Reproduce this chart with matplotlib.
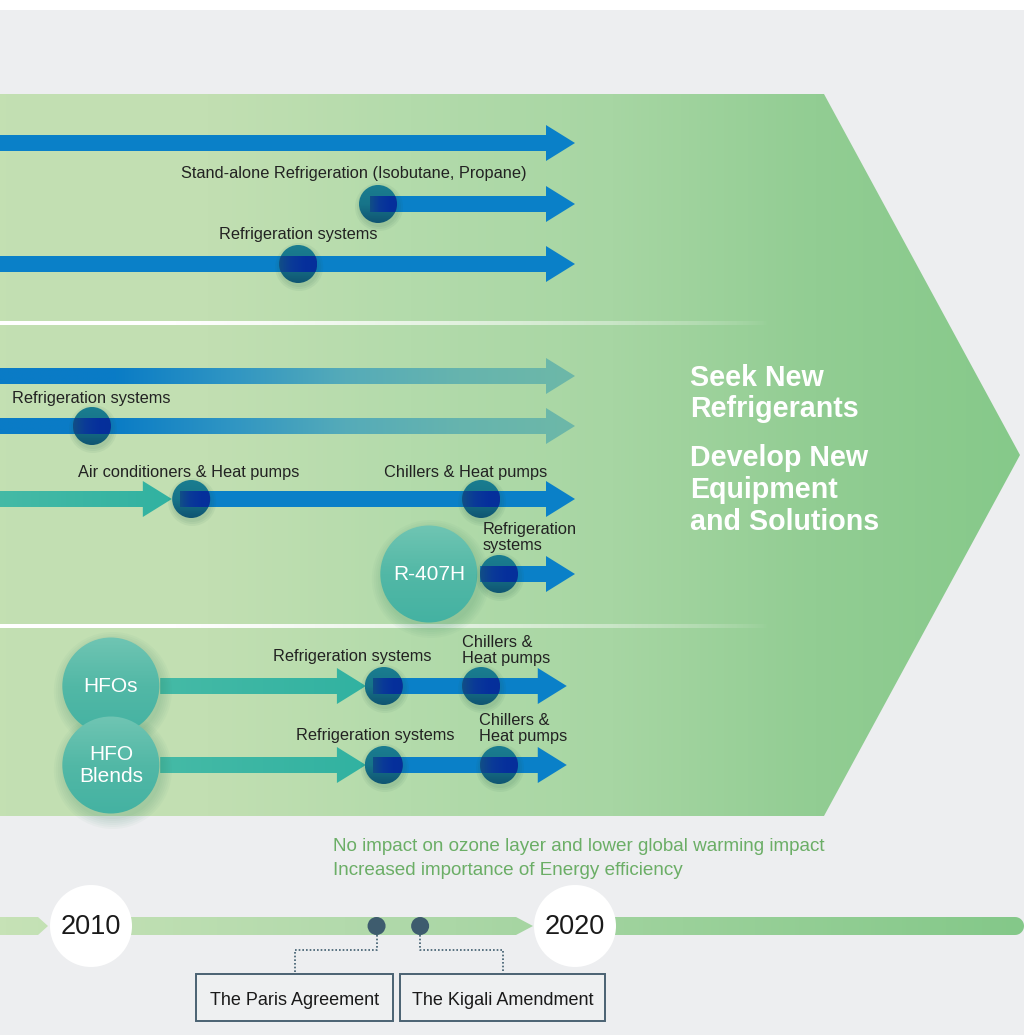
import matplotlib
matplotlib.use('Agg')
import matplotlib.pyplot as plt
import numpy as np
from matplotlib.patches import Polygon, Ellipse, Rectangle, PathPatch
from matplotlib.path import Path
from matplotlib.colors import LinearSegmentedColormap

plt.rcParams['font.family'] = ['Liberation Sans', 'DejaVu Sans']

# ---- data -------------------------------------------------------------
years = [2010, 2020]
events = ['The Paris Agreement', 'The Kigali Amendment']
event_years = [2015.9, 2016.8]

# arrows: (row, start year, end year); None = starts before the left edge
blue_arrows = [(0, None, 2020.0), (1, 2015.76, 2020.0), (2, None, 2020.0),
               (5, 2011.84, 2020.0), (6, 2018.04, 2020.0),
               (7, 2015.83, 2019.83), (8, 2015.83, 2019.83)]
fade_arrows = [(3, None, 2020.0), (4, None, 2020.0)]
teal_arrows = [(5, None, 2011.67), (7, 2011.43, 2015.68), (8, 2011.43, 2015.68)]

# milestone dots: (row, year)
milestones = [(1, 2015.93), (2, 2014.28), (4, 2010.02), (5, 2012.07), (5, 2018.06),
              (6, 2018.43), (7, 2016.05), (7, 2018.06), (8, 2016.05), (8, 2018.43)]

# new refrigerants: (name, row, year)
refrigerants = [('R-407H', 6, 2016.98), ('HFOs', 7, 2010.41), ('HFO\nBlends', 8, 2010.41)]

# application labels: (text, year, baseline, align)
app_labels = [
    ('Stand-alone Refrigeration (Isobutane, Propane)', 2015.43, 178, 'center'),
    ('Refrigeration systems', 2014.29, 239, 'center'),
    ('Refrigeration systems', 2008.37, 403, 'left'),
    ('Air conditioners & Heat pumps', 2012.01, 477, 'center'),
    ('Chillers & Heat pumps', 2017.73, 477, 'center'),
    ('Refrigeration', 2018.10, 534, 'left'),
    ('systems', 2018.10, 550, 'left'),
    ('Refrigeration systems', 2015.39, 661, 'center'),
    ('Chillers &', 2017.67, 647, 'left'),
    ('Heat pumps', 2017.67, 663, 'left'),
    ('Refrigeration systems', 2015.87, 740, 'center'),
    ('Chillers &', 2018.02, 725, 'left'),
    ('Heat pumps', 2018.02, 741, 'left'),
]

goals = ['Seek New', 'Refrigerants', 'Develop New', 'Equipment', 'and Solutions']
notes = ['No impact on ozone layer and lower global warming impact',
         'Increased importance of Energy efficiency']

# ---- layout -----------------------------------------------------------
W, H = 1024, 1035
PPY = 48.4                       # pixels per year on the timeline
X_LEFT = 2010 - 91 / PPY
X_RIGHT = X_LEFT + W / PPY
row_y = [143, 204, 264, 376, 426, 499, 574, 686, 765]


def xp(px):
    return X_LEFT + px / PPY


fig = plt.figure(figsize=(W / 100, H / 100), dpi=100)
fig.patch.set_facecolor('white')
ax = fig.add_axes([0, 0, 1, 1])
ax.axis('off')


def grad_fill(x0, x1, y0, y1, colors, clip=None, z=1, vertical=False):
    cmap = LinearSegmentedColormap.from_list('', colors)
    ramp = np.linspace(0, 1, 256)
    arr = ramp[:, None] if vertical else ramp[None, :]
    im = ax.imshow(arr, cmap=cmap, extent=(x0, x1, y1, y0), aspect='auto',
                   interpolation='bilinear', zorder=z)
    if clip is not None:
        if clip.axes is None:
            clip.set_transform(ax.transData)
        im.set_clip_path(clip)
    return im


def arrow_poly(x0, x1, y, hs=8, hh=18, hl=29):
    xh = x1 - hl / PPY
    return [(x0, y - hs), (xh, y - hs), (xh, y - hh), (x1, y),
            (xh, y + hh), (xh, y + hs), (x0, y + hs)]


def circ(xc, y, r, **kw):
    return Ellipse((xc, y), 2 * r / PPY, 2 * r, **kw)


# background
ax.add_patch(Rectangle((X_LEFT, 10), W / PPY, H, fc='#EDEEF0', lw=0, zorder=0))

# big green chevron
chev = Polygon([(xp(0), 94), (xp(824), 94), (xp(1020), 455), (xp(824), 816), (xp(0), 816)],
               closed=True, fc='none', lw=0)
ax.add_patch(chev)
grad_fill(xp(0), xp(1020), 94, 816,
          ['#C3E0B2', '#C2DFB2', '#B3DBAB', '#A7D6A3', '#92CD93', '#86C98A'],
          clip=chev, z=1)

# fading white separators
for sy in [323, 626]:
    rgba = np.ones((1, 256, 4))
    rgba[0, :, 3] = np.clip(1.3 - np.linspace(0, 1.3, 256), 0, 1) ** 0.7
    ax.imshow(rgba, extent=(xp(0), xp(770), sy + 2, sy - 2), aspect='auto', zorder=2,
              interpolation='bilinear')

# arrows
BLUE = '#0A80C8'
for row, x0, x1 in blue_arrows:
    x0 = xp(-5) if x0 is None else x0
    ax.add_patch(Polygon(arrow_poly(x0, x1, row_y[row]), closed=True, fc=BLUE, lw=0, zorder=3))

for row, x0, x1 in fade_arrows:
    x0 = xp(-5) if x0 is None else x0
    p = Polygon(arrow_poly(x0, x1, row_y[row]), closed=True, fc='none', lw=0)
    ax.add_patch(p)
    grad_fill(xp(0), x1, row_y[row] - 20, row_y[row] + 20,
              ['#0A7BC6', '#0A7CC6', '#2F95C3', '#55ABB9', '#66B4AE', '#6DB8A8'],
              clip=p, z=3)

for row, x0, x1 in teal_arrows:
    x0 = xp(-5) if x0 is None else x0
    p = Polygon(arrow_poly(x0, x1, row_y[row]), closed=True, fc='none', lw=0)
    ax.add_patch(p)
    grad_fill(x0, x1, row_y[row] - 20, row_y[row] + 20, ['#45BAA6', '#31B2A1'], clip=p, z=3)

# new refrigerant bubbles
for name, row, xc in refrigerants:
    y = row_y[row]
    for k in range(6):
        ax.add_patch(circ(xc + 2 / PPY, y + 5, 49 + 2 * k, fc='#2F7F62', alpha=0.035, lw=0, zorder=4))
    b = circ(xc, y, 48.5, fc='none', lw=0, zorder=5)
    ax.add_patch(b)
    grad_fill(xc - 49 / PPY, xc + 49 / PPY, y - 49, y + 49,
              ['#70C5B3', '#52B8A6', '#44B2A2'], clip=b, z=5, vertical=True)
    lines = name.split('\n')
    for i, ln in enumerate(lines):
        ax.text(xc, y + (i - (len(lines) - 1) / 2) * 22, ln, color='white', fontsize=15,
                ha='center', va='center', zorder=6)

# milestone dots; the dark core shows where the arrow shaft runs under the dot
R = 19
for row, xc in milestones:
    y = row_y[row]
    starts = [(X_LEFT - 1 if s is None else s) for r_, s, e in blue_arrows + fade_arrows
              if r_ == row and (s is None or s <= xc) and e >= xc]
    band_left = max(min(starts), xc - R / PPY)
    for k in range(3):
        ax.add_patch(circ(xc + 1 / PPY, y + 3, R + 1 + 2 * k, fc='#1E5A48', alpha=0.06, lw=0, zorder=6))
    d = circ(xc, y, R, fc='none', lw=0)
    ax.add_patch(d)
    grad_fill(xc - R / PPY, xc + R / PPY, y - R, y + R,
              ['#1A7D90', '#177489', '#0F5472'], clip=d, z=7, vertical=True)
    grad_fill(band_left, xc + R / PPY, y - 8, y + 8,
              ['#114F86', '#0A3A98', '#06309C', '#052F9A'], clip=d, z=8)

# application labels
for txt, xc, yb, ha in app_labels:
    ax.text(xc, yb, txt, fontsize=11.8, color='#222222', ha=ha, va='baseline', zorder=9)

# goals inside the chevron
for txt, yb in zip(goals, [386, 417, 466, 498, 530]):
    ax.text(xp(690), yb, txt, fontsize=20.6, fontweight='bold', color='white',
            ha='left', va='baseline', zorder=9)

# notes under the chevron
for txt, yb in zip(notes, [851, 875]):
    ax.text(xp(333), yb, txt, fontsize=13.6, color='#6BAE66', ha='left', va='baseline', zorder=9)

# timeline bar
TY, TH = 926, 9
segs = []
segs.append([(xp(-5), TY - TH), (xp(38), TY - TH), (xp(48), TY), (xp(38), TY + TH), (xp(-5), TY + TH)])
segs.append([(xp(110), TY - TH), (xp(516), TY - TH), (xp(533), TY), (xp(516), TY + TH), (xp(110), TY + TH)])
arc = [(xp(1015 + 9 * np.cos(t)), TY + 9 * np.sin(t)) for t in np.linspace(-np.pi / 2, np.pi / 2, 20)]
segs.append([(xp(600), TY - TH)] + arc + [(xp(600), TY + TH)])
path = Path.make_compound_path(*[Path(s + [s[0]], closed=True) for s in segs])
bar = PathPatch(path, fc='none', lw=0)
ax.add_patch(bar)
grad_fill(xp(0), xp(1024), TY - TH, TY + TH, ['#C6E2B6', '#B3DAAC', '#9BD19A', '#84C889'],
          clip=bar, z=3)

for yr in years:
    ax.add_patch(circ(yr, TY, 41, fc='white', lw=0, zorder=4))
    ax.text(yr, TY + 1, str(yr), fontsize=19.5, color='#1A1A1A', ha='center', va='center', zorder=5)

# events and their boxes
box_centres = [xp(294.5), xp(502.5)]
box_lefts = [xp(196), xp(400)]
box_widths = [197 / PPY, 205 / PPY]
for ev, ey, bc, bl, bw in zip(events, event_years, box_centres, box_lefts, box_widths):
    ax.add_patch(circ(ey, TY, 9, fc='#3E5C6E', lw=0, zorder=5))
    ax.plot([ey, ey, bc, bc], [TY + 9, 950, 950, 973], color='#3E5C6E', lw=1.2,
            ls=(0, (1, 1.2)), zorder=5)
    ax.add_patch(Rectangle((bl, 974), bw, 47, fc='#EEF0F1', ec='#4A6272', lw=1.4, zorder=5))
    ax.text(bc, 1005, ev, fontsize=13, color='#1A1A1A', ha='center', va='baseline', zorder=6)

ax.set_xlim(X_LEFT, X_RIGHT)
ax.set_ylim(H, 0)
fig.savefig('out.png', dpi=100, facecolor=fig.get_facecolor())
